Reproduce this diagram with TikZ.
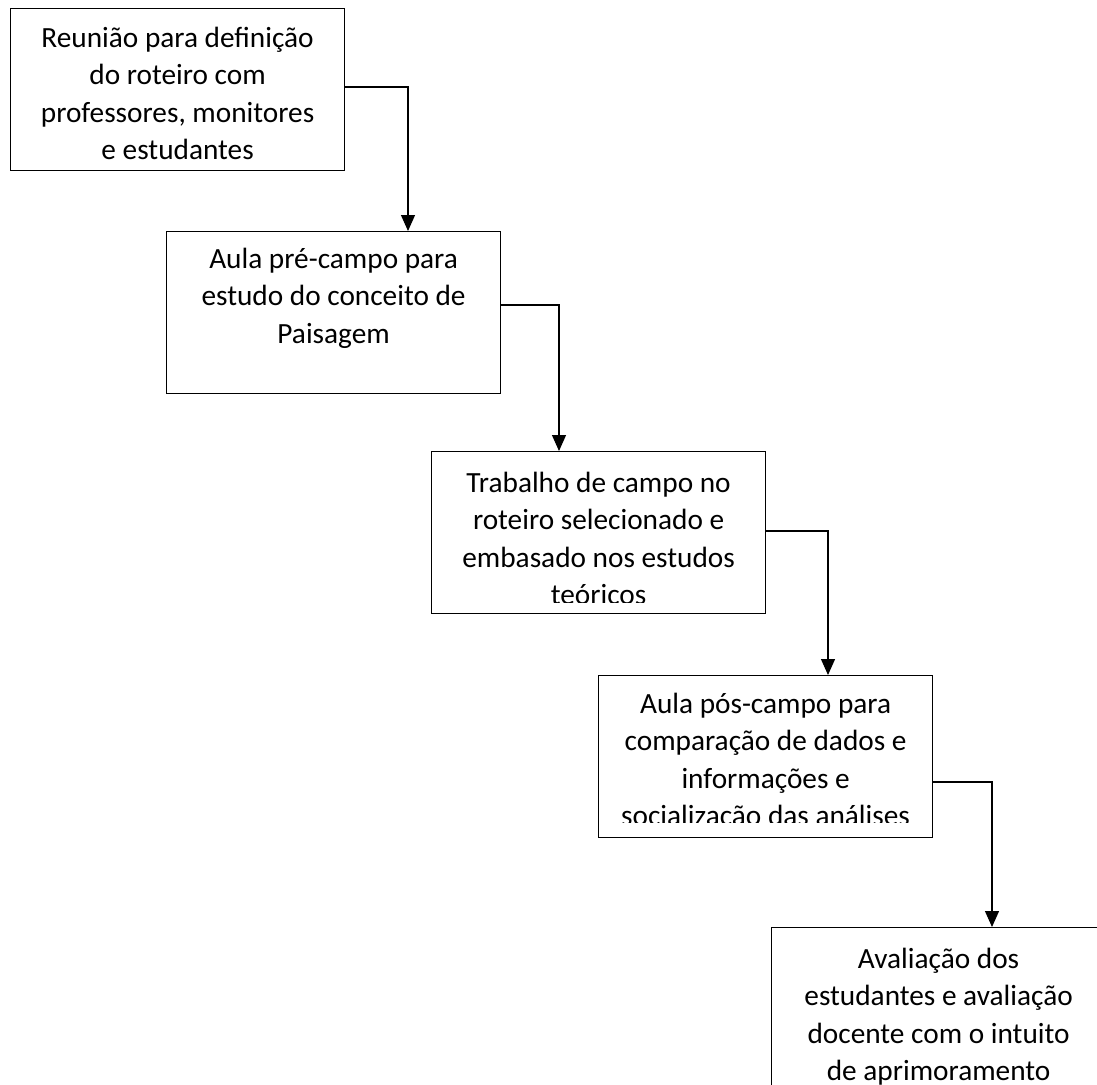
\documentclass[tikz,border=0pt]{standalone}
\usepackage{fontspec}
\setmainfont{Carlito}
\usetikzlibrary{arrows.meta}
\begin{document}
\begin{tikzpicture}[x=1pt,y=-1pt,
  box/.style={draw, line width=1.2pt, minimum width=334pt, minimum height=162pt, inner sep=0pt, anchor=north west},
  txt/.style={anchor=base, text width=330pt, align=flush center, inner sep=0pt, font=\fontsize{29.3}{37.5}\selectfont},
  link/.style={line width=1.2pt, -{Triangle[width=14pt,length=16pt]}}]
\clip (0,0) rectangle (1097,1084);
\fill[white] (0,0) rectangle (1097,1084);
\node[box] (b1) at (10,8) {};
\node[box] (b2) at (166,231) {};
\node[box] (b3) at (431,451) {};
\node[box] (b4) at (598,675) {};
\node[box] (b5) at (771,927) {};
\node[txt] (t1) at ([yshift=-39pt]b1.north) {Reunião para definição\\do roteiro com\\professores, monitores\\e estudantes};
\node[txt] (t2) at ([yshift=-37pt]b2.north) {Aula pré-campo para\\estudo do conceito de\\Paisagem};
\begin{scope}
\clip (b3.north west) rectangle ([yshift=11.5pt]b3.south east);
\node[txt] (t3) at ([yshift=-41pt]b3.north) {Trabalho de campo no\\roteiro selecionado e\\embasado nos estudos\\teóricos};
\end{scope}
\begin{scope}
\clip (b4.north west) rectangle ([yshift=15.5pt]b4.south east);
\node[txt] (t4) at ([yshift=-38pt]b4.north) {Aula pós-campo para\\comparação de dados e\\informações e\\socialização das análises};
\end{scope}
\node[txt] (t5) at ([yshift=-41pt]b5.north) {Avaliação dos\\estudantes e avaliação\\docente com o intuito\\de aprimoramento};
\coordinate (k1) at (408,87);
\coordinate (k2) at (559,305);
\coordinate (k3) at (828,531);
\coordinate (k4) at (992,782);
\draw[link] (b1.east |- k1) -- (k1) -- (k1 |- b2.north);
\draw[link] (b2.east |- k2) -- (k2) -- (k2 |- b3.north);
\draw[link] (b3.east |- k3) -- (k3) -- (k3 |- b4.north);
\draw[link] (b4.east |- k4) -- (k4) -- (k4 |- b5.north);
\end{tikzpicture}
\end{document}
